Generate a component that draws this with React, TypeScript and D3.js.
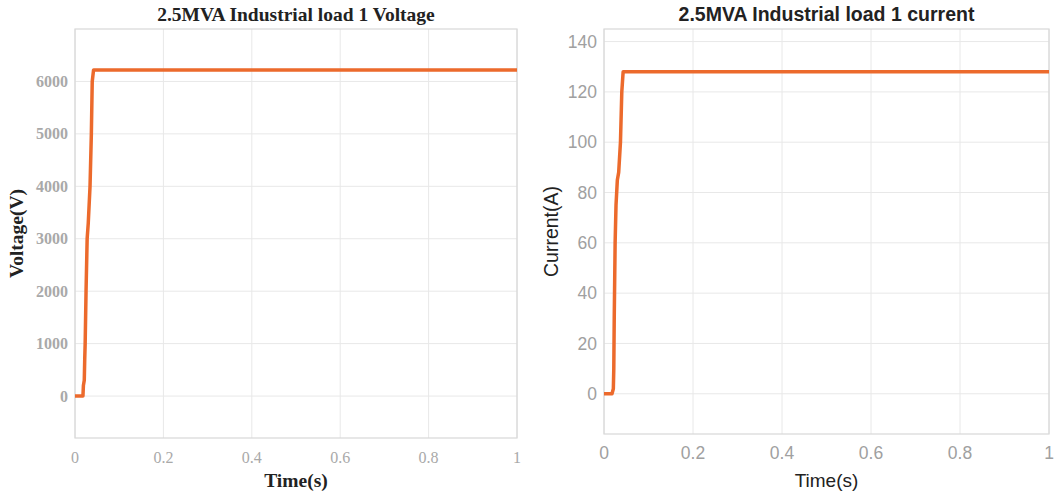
import React from "react";
import * as d3 from "d3";

// time (s) and values
const voltageTime = [0, 0.012, 0.018, 0.019, 0.021, 0.022, 0.023, 0.025, 0.0275, 0.03, 0.034, 0.037, 0.039, 0.042, 0.3, 0.6, 1];
const voltageValue = [0, 0, 0, 200, 300, 700, 1000, 2000, 3000, 3300, 4000, 5000, 6000, 6220, 6220, 6220, 6220];

const currentTime = [0, 0.012, 0.018, 0.021, 0.022, 0.023, 0.025, 0.027, 0.03, 0.033, 0.037, 0.04, 0.043, 0.3, 0.6, 1];
const currentValue = [0, 0, 0, 2, 10, 30, 60, 75, 85, 88, 100, 120, 128, 128, 128, 128];

const timeTicks = [0, 0.2, 0.4, 0.6, 0.8, 1];
const voltageTicks = [0, 1000, 2000, 3000, 4000, 5000, 6000];
const currentTicks = [0, 20, 40, 60, 80, 100, 120, 140];

const lineColor = "#ec6a2c";

type PanelProps = {
  left: number;
  right: number;
  top: number;
  bottom: number;
  yDomain: [number, number];
  yTicks: number[];
  times: number[];
  values: number[];
  title: string;
  yLabel: string;
  yLabelX: number;
  font: string;
  serif: boolean;
};

function Panel(p: PanelProps) {
  const x = d3.scaleLinear().domain([0, 1]).range([p.left, p.right]);
  const y = d3.scaleLinear().domain(p.yDomain).range([p.bottom, p.top]);
  const pts = p.times.map((t, i) => [t, p.values[i]] as [number, number]);
  const line = d3
    .line<[number, number]>()
    .x((d) => x(d[0]))
    .y((d) => y(d[1]));
  const tickColor = p.serif ? "#a9a9a9" : "#a0a0a0";
  const labelWeight = p.serif ? "bold" : "normal";
  return (
    <g fontFamily={p.font}>
      {timeTicks.map((t) => (
        <line key={"gx" + t} x1={x(t)} x2={x(t)} y1={p.top} y2={p.bottom} stroke="#e8e8e8" strokeWidth={1} />
      ))}
      {p.yTicks.map((v) => (
        <line key={"gy" + v} x1={p.left} x2={p.right} y1={y(v)} y2={y(v)} stroke="#e8e8e8" strokeWidth={1} />
      ))}
      <rect x={p.left} y={p.top} width={p.right - p.left} height={p.bottom - p.top} fill="none" stroke="#d8d8d8" strokeWidth={1.2} />
      {timeTicks.map((t) => (
        <text key={"tx" + t} x={x(t)} y={p.bottom + 25} textAnchor="middle" fontSize={p.serif ? 16 : 17.5} fill={tickColor}>
          {String(t)}
        </text>
      ))}
      {p.yTicks.map((v) => (
        <text key={"ty" + v} x={p.left - 7} y={y(v)} dy="0.35em" textAnchor="end" fontSize={p.serif ? 16 : 17.5} fill={tickColor} fontWeight={p.serif ? "bold" : "normal"}>
          {v}
        </text>
      ))}
      <path d={line(pts) || ""} fill="none" stroke={lineColor} strokeWidth={3.5} strokeLinejoin="round" />
      <text x={(p.left + p.right) / 2} y={21} textAnchor="middle" fontSize={p.serif ? 19.5 : 19.5} fontWeight="bold" fill="#222">
        {p.title}
      </text>
      <text x={(p.left + p.right) / 2} y={487} textAnchor="middle" fontSize={p.serif ? 19.5 : 19} fontWeight={labelWeight} fill="#222">
        Time(s)
      </text>
      <text
        transform={`translate(${p.yLabelX},${(p.top + p.bottom) / 2}) rotate(-90)`}
        textAnchor="middle"
        dy="0.35em"
        fontSize={19.5}
        fontWeight={labelWeight}
        fill="#222"
      >
        {p.yLabel}
      </text>
    </g>
  );
}

export default function App() {
  return (
    <svg width={1059} height={497} style={{ position: "absolute", left: 0, top: 0, background: "#fff" }}>
      <Panel
        left={75}
        right={517}
        top={29}
        bottom={438}
        yDomain={[-800, 7000]}
        yTicks={voltageTicks}
        times={voltageTime}
        values={voltageValue}
        title="2.5MVA Industrial load 1 Voltage"
        yLabel="Voltage(V)"
        yLabelX={16}
        font="'Liberation Serif', 'DejaVu Serif', serif"
        serif={true}
      />
      <Panel
        left={604}
        right={1049}
        top={29}
        bottom={434}
        yDomain={[-16, 145]}
        yTicks={currentTicks}
        times={currentTime}
        values={currentValue}
        title="2.5MVA Industrial load 1 current"
        yLabel="Current(A)"
        yLabelX={551}
        font="'Liberation Sans', Arial, sans-serif"
        serif={false}
      />
    </svg>
  );
}
